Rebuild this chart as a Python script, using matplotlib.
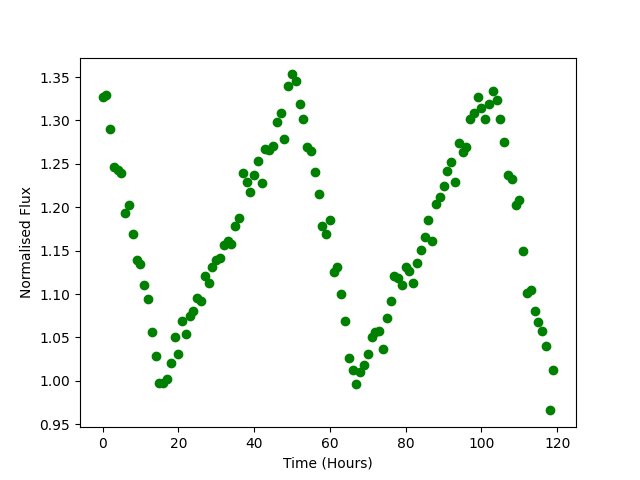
import numpy as np
import matplotlib
matplotlib.use('Agg')
import matplotlib.pyplot as plt

hours = np.arange(120)
flux = [1.327, 1.329, 1.290, 1.246, 1.243, 1.239, 1.193, 1.203, 1.169, 1.139,
        1.135, 1.111, 1.094, 1.056, 1.029, 0.998, 0.998, 1.002, 1.021, 1.050,
        1.031, 1.069, 1.054, 1.075, 1.080, 1.095, 1.092, 1.121, 1.113, 1.131,
        1.139, 1.142, 1.156, 1.161, 1.158, 1.178, 1.188, 1.239, 1.229, 1.217,
        1.237, 1.253, 1.228, 1.267, 1.266, 1.271, 1.298, 1.309, 1.279, 1.340,
        1.353, 1.345, 1.319, 1.302, 1.269, 1.265, 1.241, 1.215, 1.178, 1.169,
        1.185, 1.125, 1.131, 1.100, 1.069, 1.026, 1.013, 0.996, 1.010, 1.018,
        1.031, 1.051, 1.056, 1.057, 1.037, 1.072, 1.092, 1.121, 1.119, 1.111,
        1.131, 1.127, 1.113, 1.136, 1.151, 1.166, 1.185, 1.161, 1.204, 1.212,
        1.224, 1.242, 1.252, 1.229, 1.274, 1.264, 1.269, 1.302, 1.309, 1.327,
        1.314, 1.302, 1.319, 1.334, 1.323, 1.302, 1.275, 1.237, 1.232, 1.203,
        1.208, 1.150, 1.101, 1.105, 1.081, 1.068, 1.058, 1.040, 0.966, 1.013]

fig = plt.figure(figsize=(6.4, 4.8), dpi=100)
plt.plot(hours, flux, 'o', color='green')
plt.xlabel('Time (Hours)')
plt.ylabel('Normalised Flux')
plt.savefig('out.png')
